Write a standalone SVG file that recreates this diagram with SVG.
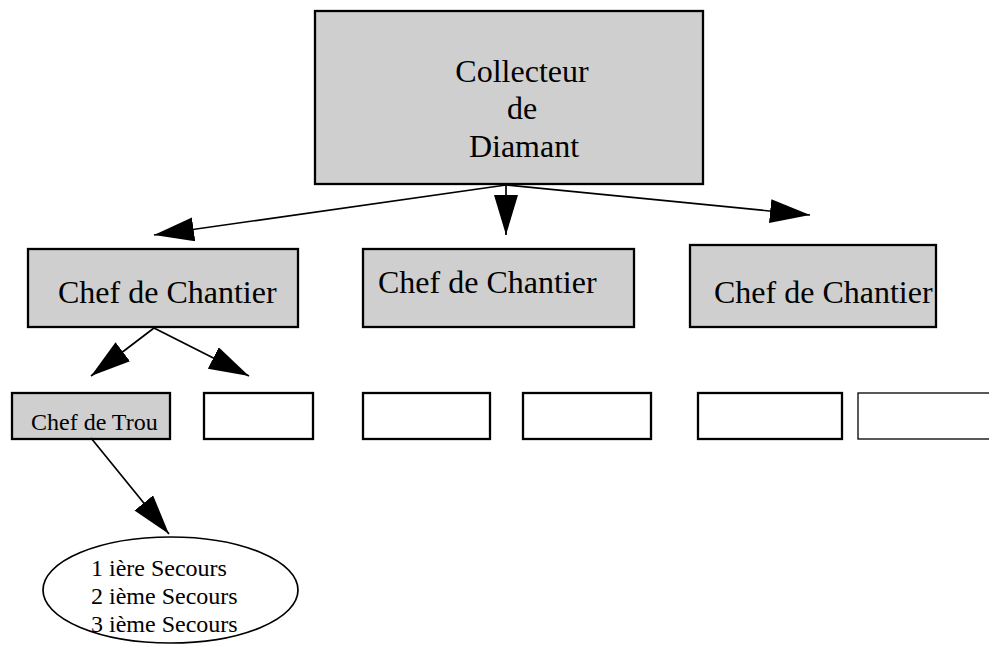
<svg xmlns="http://www.w3.org/2000/svg" width="989" height="646" viewBox="0 0 989 646">
<defs>
<style>
.box{stroke:#000;stroke-width:2.3;}
.grey{fill:#cfcfcf;}
.white{fill:#fff;}
text{font-family:"Liberation Serif","Times New Roman",serif;fill:#000;}
.big{font-size:32px;}
.small{font-size:24px;}
.conn line{stroke:#000;stroke-width:1.7;}
</style>
<marker id="arr" markerUnits="userSpaceOnUse" markerWidth="42" markerHeight="26" refX="40" refY="12" orient="auto" viewBox="0 0 42 26">
<path d="M0,0 L40,12 L0,24 Z" fill="#000"/>
</marker>
</defs>
<rect width="989" height="646" fill="#fff"/>
<g id="collecteur">
<rect class="box grey" x="315" y="11" width="388" height="173"/>
<text class="big" x="522" y="82" text-anchor="middle">Collecteur</text>
<text class="big" x="522" y="119" text-anchor="middle">de</text>
<text class="big" x="524" y="157" text-anchor="middle">Diamant</text>
</g>
<g id="chantier1">
<rect class="box grey" x="28" y="249" width="270" height="78"/>
<text class="big" x="58" y="303">Chef de Chantier</text>
</g>
<g id="chantier2">
<rect class="box grey" x="363" y="249" width="271" height="78"/>
<text class="big" x="378" y="293">Chef de Chantier</text>
</g>
<g id="chantier3">
<rect class="box grey" x="690" y="245" width="246" height="82"/>
<text class="big" x="714" y="303">Chef de Chantier</text>
</g>
<g id="chefdetrou">
<rect class="box grey" x="12" y="393" width="158" height="46"/>
<text class="small" x="31" y="430">Chef de Trou</text>
</g>
<g id="sub2"><rect class="box white" x="204" y="393" width="109" height="46"/></g>
<g id="sub3"><rect class="box white" x="363" y="393" width="127" height="46"/></g>
<g id="sub4"><rect class="box white" x="523" y="393" width="128" height="46"/></g>
<g id="sub5"><rect class="box white" x="698" y="393" width="144" height="46"/></g>
<g id="sub6"><rect class="white" x="858" y="393" width="140" height="46" stroke="#000" stroke-width="1.3"/></g>
<g id="secours">
<ellipse cx="170.5" cy="590" rx="127.5" ry="53" fill="#fff" stroke="#000" stroke-width="1.7"/>
<text class="small" x="91" y="576">1 ière Secours</text>
<text class="small" x="91" y="604">2 ième Secours</text>
<text class="small" x="91" y="632">3 ième Secours</text>
</g>
<g id="connectors" class="conn">
<line x1="506" y1="185" x2="154" y2="235" marker-end="url(#arr)"/>
<line x1="506" y1="185" x2="506" y2="235" marker-end="url(#arr)"/>
<line x1="506" y1="185" x2="810" y2="215" marker-end="url(#arr)"/>
<line x1="154" y1="328" x2="91" y2="376" marker-end="url(#arr)"/>
<line x1="154" y1="328" x2="249" y2="376" marker-end="url(#arr)"/>
<line x1="91" y1="438" x2="169" y2="534" marker-end="url(#arr)"/>
</g>
</svg>
